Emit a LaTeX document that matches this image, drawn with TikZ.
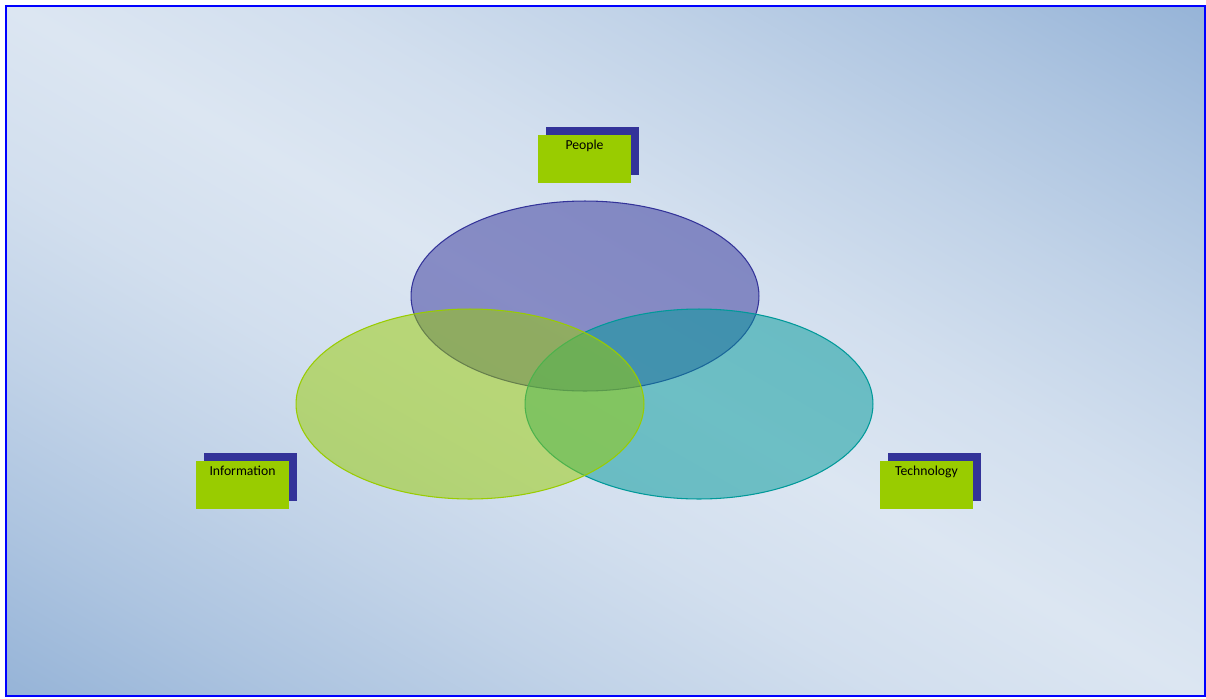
\documentclass[tikz,border=0pt]{standalone}
\usepackage{fontspec}
\setsansfont{Carlito}
\usepackage{tikz}
\usetikzlibrary{shadows}
\definecolor{bgdark}{HTML}{95B3D7}
\definecolor{bglight}{HTML}{DCE6F2}
\definecolor{tagfill}{HTML}{99CC00}
\definecolor{tagshadow}{HTML}{333399}
\definecolor{tealset}{HTML}{009999}
\pgfdeclarehorizontalshading{bgband}{100bp}{color(0bp)=(bgdark); color(25bp)=(bgdark);
  color(31.25bp)=(bgdark!67!bglight); color(37.5bp)=(bgdark!38!bglight); color(43.75bp)=(bgdark!14!bglight);
  color(50bp)=(bglight);
  color(56.25bp)=(bgdark!14!bglight); color(62.5bp)=(bgdark!38!bglight); color(68.75bp)=(bgdark!67!bglight);
  color(75bp)=(bgdark); color(100bp)=(bgdark)}

\begin{document}
\begin{tikzpicture}[x=0.02cm,y=0.02cm,
    tag/.style={fill=tagfill, inner sep=0pt, minimum width=1.86cm,
      text height=0.28cm, text depth=0.68cm,
      font=\sffamily\fontsize{7.8}{9}\selectfont,
      drop shadow={fill=tagshadow, opacity=1, shadow xshift=0.16cm, shadow yshift=0.16cm}},
    venn/.style={fill opacity=0.5, line width=0.6pt}]
  \useasboundingbox (0,0) rectangle (1206,698);
  % background
  \begin{scope}
    \clip (6,2) rectangle (1205,692);
    \begin{scope}[transform canvas={rotate around={59.94:(603,349)}}]
      \shade[shading=bgband] (-1,-451) rectangle (1207,1149);
    \end{scope}
  \end{scope}
  \draw[blue, line width=1.4pt] (6,2) rectangle (1205,692);
  % the three sets
  \draw[venn, fill=tagshadow, draw=tagshadow] (585,402) ellipse [x radius=3.48cm, y radius=1.9cm];
  \draw[venn, fill=tealset, draw=tealset] (699,294) ellipse [x radius=3.48cm, y radius=1.9cm];
  \draw[venn, fill=tagfill, draw=tagfill] (470,294) ellipse [x radius=3.48cm, y radius=1.9cm];
  % labels
  \node[tag] (people) at (584.5,539) {People};
  \node[tag] (information) at (242.5,213) {Information};
  \node[tag] (technology) at (926.5,213) {Technology};
\end{tikzpicture}
\end{document}
